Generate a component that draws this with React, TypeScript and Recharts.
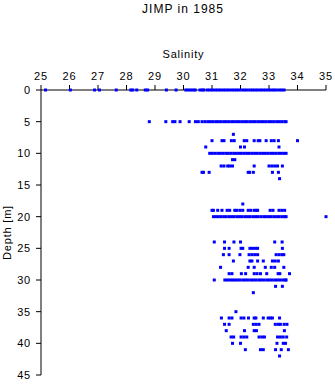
import React from 'react';
import { ScatterChart, Scatter, XAxis, YAxis, Label } from 'recharts';

document.body.style.margin = '0';

// salinity readings per sampled depth [m]
const depth0 = [25.16, 26.03, 26.88, 27.05, 27.64, 28.15, 28.22, 28.36, 28.66, 28.74, 29.4, 29.74,
    30.08, 30.16, 30.25, 30.34, 30.41, 30.58, 30.66, 30.72, 30.84, 30.93, 31.02, 31.12, 31.21, 31.3,
    31.4, 31.49, 31.58, 31.68, 31.77, 31.86, 31.95, 32.05, 32.14, 32.23, 32.33, 32.42, 32.51, 32.6,
    32.7, 32.79, 32.88, 32.98, 33.07, 33.16, 33.25, 33.35, 33.44, 33.53];
const depth5 = [28.8, 29.38, 29.62, 29.7, 29.88, 30.2, 30.42, 30.52, 30.65, 30.75, 30.85, 30.94,
    31.03, 31.13, 31.22, 31.31, 31.41, 31.5, 31.59, 31.69, 31.78, 31.87, 31.96, 32.06, 32.15, 32.24,
    32.34, 32.43, 32.52, 32.62, 32.71, 32.8, 32.89, 32.99, 33.08, 33.17, 33.27, 33.36, 33.45, 33.55, 33.6];
const depth7 = [31.75];
const depth8 = [31.0, 31.35, 31.42, 31.68, 31.78, 32.13, 32.22, 32.48, 32.62, 32.68, 32.9, 33.08, 33.18, 33.33, 34.0];
const depth9 = [30.78, 32.0, 32.14, 33.35];
const depth10 = [30.92, 31.01, 31.1, 31.2, 31.29, 31.38, 31.48, 31.57, 31.66, 31.76, 31.85, 31.94,
    32.03, 32.13, 32.22, 32.31, 32.41, 32.5, 32.59, 32.69, 32.78, 32.87, 32.96, 33.06, 33.15, 33.24,
    33.34, 33.43, 33.52, 33.6];
const depth11 = [31.72, 31.8];
const depth12 = [31.32, 31.42, 31.55, 31.62, 31.72, 32.48, 33.0, 33.1, 33.2, 33.3, 33.47];
const depth13 = [30.65, 30.7, 30.9, 32.27, 32.32, 32.45, 33.12, 33.33];
const depth14 = [33.37];
const depth18 = [32.08];
const depth19 = [31.0, 31.05, 31.2, 31.35, 31.53, 31.62, 31.8, 31.87, 31.98, 32.08, 32.27, 32.36,
    32.48, 32.55, 32.6, 33.04, 33.14, 33.35, 33.45, 33.55];
const depth20 = [31.05, 31.13, 31.22, 31.31, 31.41, 31.5, 31.6, 31.69, 31.78, 31.88, 31.97, 32.06,
    32.16, 32.25, 32.34, 32.44, 32.53, 32.62, 32.72, 32.82, 32.9, 32.99, 33.08, 33.18, 33.27, 33.36,
    33.46, 33.55, 33.6, 35.0];
const depth24 = [31.08, 31.44, 31.77, 32.0, 33.2, 33.46];
const depth25 = [31.44, 31.6, 32.02, 32.08, 32.33, 32.42, 32.52, 32.6, 33.47];
const depth26 = [31.4, 31.6, 31.98, 32.3, 32.4, 32.5, 32.6, 33.25, 33.35, 33.45, 33.52];
const depth27 = [31.75, 32.33, 32.4, 32.6, 32.8, 33.12, 33.22, 33.33];
const depth28 = [31.3, 32.27, 32.48, 32.87, 33.08, 33.2, 33.52];
const depth29 = [31.6, 31.7, 32.03, 32.18, 32.48, 32.58, 32.7, 32.92, 33.32, 33.38, 33.72];
const depth30 = [31.08, 31.45, 31.54, 31.63, 31.72, 31.8, 31.89, 31.98, 32.08, 32.17, 32.26, 32.36,
    32.45, 32.54, 32.64, 32.73, 32.82, 32.92, 33.01, 33.1, 33.2, 33.29, 33.38, 33.48, 33.57, 33.6];
const depth31 = [33.23, 33.47];
const depth32 = [32.45];
const depth35 = [31.84];
const depth36 = [31.33, 31.6, 31.7, 32.02, 32.12, 32.28, 32.48, 32.54, 32.8, 32.97, 33.05, 33.12, 33.37];
const depth37 = [31.44, 31.6, 32.45, 32.55, 32.65, 33.22, 33.32, 33.4, 33.53, 33.63];
const depth38 = [31.5, 32.14, 32.48, 32.56, 33.54];
const depth39 = [31.67, 31.76, 32.02, 32.12, 32.22, 32.65, 32.75, 32.84, 33.3, 33.4, 33.5, 33.62];
const depth40 = [31.72, 32.0, 33.28, 33.5, 33.58];
const depth41 = [32.17, 32.7, 32.8, 33.23, 33.43, 33.68];
const depth42 = [33.37];

const levels: Array<[number, number[]]> = [
    [0, depth0], [5, depth5], [7, depth7], [8, depth8], [9, depth9], [10, depth10], [11, depth11],
    [12, depth12], [13, depth13], [14, depth14], [18, depth18], [19, depth19], [20, depth20],
    [24, depth24], [25, depth25], [26, depth26], [27, depth27], [28, depth28], [29, depth29],
    [30, depth30], [31, depth31], [32, depth32], [35, depth35], [36, depth36], [37, depth37],
    [38, depth38], [39, depth39], [40, depth40], [41, depth41], [42, depth42],
];

const salinityTicks = [25, 26, 27, 28, 29, 30, 31, 32, 33, 34, 35];
const depthTicks = [0, 5, 10, 15, 20, 25, 30, 35, 40, 45];

const data = levels.flatMap(([depth, vals]) => vals.map((salinity) => ({ salinity, depth })));

const font = '"Liberation Sans", Arial, sans-serif';
const tickStyle = { fill: '#000', fontSize: 11, fontFamily: font, letterSpacing: 0.8 };

const Dot = (props: any) => {
    const { cx, cy } = props;
    return <rect x={cx - 1.5} y={cy - 1.5} width={3} height={3} fill="#0000ff" />;
};

const App: React.FC = () => {
    return (
        <div style={{ position: 'relative', width: 335, height: 384, fontFamily: font }}>
            <div
                style={{
                    position: 'absolute',
                    top: 2,
                    left: 183,
                    transform: 'translateX(-50%)',
                    fontSize: 12,
                    letterSpacing: 1,
                    whiteSpace: 'nowrap',
                    color: '#000'
                }}
            >
                JIMP in 1985
            </div>
            <ScatterChart width={335} height={384} margin={{ top: 60, right: 9, bottom: 9, left: 11 }}>
                <XAxis
                    type="number"
                    dataKey="salinity"
                    orientation="top"
                    domain={[25, 35]}
                    ticks={salinityTicks}
                    height={30}
                    tickSize={5}
                    tickMargin={5}
                    tick={tickStyle}
                    axisLine={{ stroke: '#000' }}
                    tickLine={{ stroke: '#000' }}
                    interval={0}
                >
                    <Label value="Salinity" position="top" offset={2} style={{ fill: '#000', fontSize: 11, fontFamily: font, letterSpacing: 0.8 }} />
                </XAxis>
                <YAxis
                    type="number"
                    dataKey="depth"
                    reversed
                    domain={[0, 45]}
                    ticks={depthTicks}
                    width={30}
                    tickSize={5}
                    tickMargin={5}
                    tick={tickStyle}
                    axisLine={{ stroke: '#000' }}
                    tickLine={{ stroke: '#000' }}
                    interval={0}
                >
                    <Label
                        value="Depth [m]"
                        angle={-90}
                        position="insideLeft"
                        offset={-4}
                        style={{ textAnchor: 'middle', fill: '#000', fontSize: 11, fontFamily: font, letterSpacing: 0.8 }}
                    />
                </YAxis>
                <Scatter data={data} shape={Dot} isAnimationActive={false} />
            </ScatterChart>
        </div>
    );
};

export default App;
